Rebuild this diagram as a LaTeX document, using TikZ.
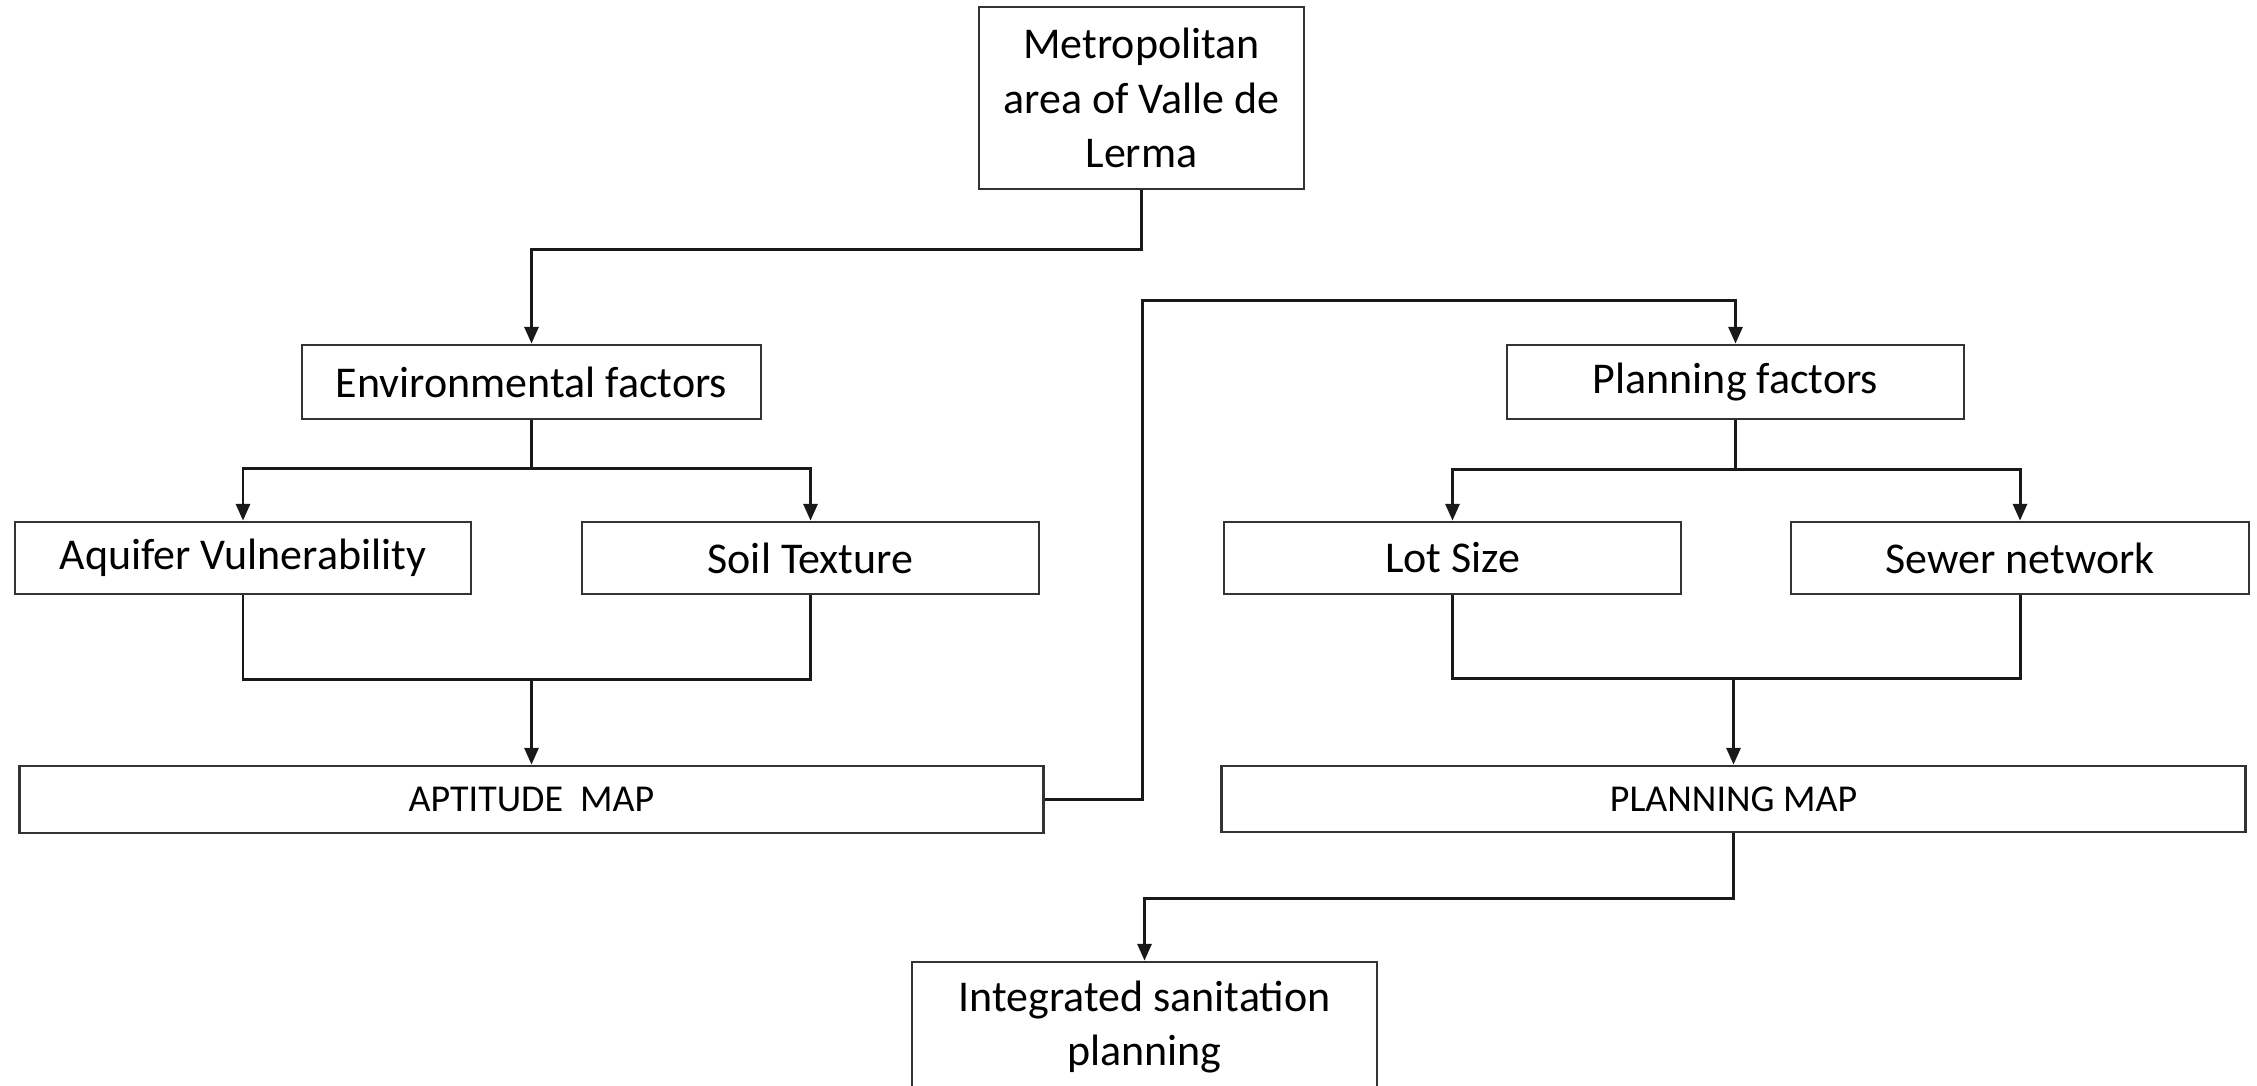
\documentclass[tikz,border=0pt]{standalone}
\usepackage{fontspec}
\setmainfont{Carlito}
\usetikzlibrary{arrows.meta}
\begin{document}
\begin{tikzpicture}[x=0.01cm, y=-0.01cm,
  box/.style={draw=black!80, line width=0.75pt, fill=white, rectangle, inner sep=0pt,
    align=center, font=\fontsize{12.5}{15.4}\selectfont},
  mapbox/.style={box, font=\fontsize{10.8}{13}\selectfont},
  link/.style={draw=black!90, line width=0.85pt},
  arr/.style={link, -{Triangle[length=4.8pt, width=4pt]}}]
\useasboundingbox (0,0) rectangle (2257,1086);
\clip (0,0) rectangle (2257,1086);

% boxes
\node[box, minimum width=3.25cm, minimum height=1.82cm] (metro) at (1141.5,98)
  {Metropolitan\\area of Valle de\\Lerma};
\node[box, minimum width=4.59cm, minimum height=0.74cm] (env) at (531.5,382) {Environmental factors};
\node[box, minimum width=4.57cm, minimum height=0.74cm] (pf) at (1735.5,382) {Planning factors};
\node[box, minimum width=4.56cm, minimum height=0.72cm] (aqu) at (243,558) {Aquifer Vulnerability};
\node[box, minimum width=4.57cm, minimum height=0.72cm] (soil) at (810.5,558) {Soil Texture};
\node[box, minimum width=4.57cm, minimum height=0.72cm] (lot) at (1452.5,558) {Lot Size};
\node[box, minimum width=4.58cm, minimum height=0.72cm] (sewer) at (2020,558) {Sewer network};
\node[mapbox, minimum width=10.23cm, minimum height=0.67cm] (apt) at (531.5,799.5) {APTITUDE\ \ MAP};
\node[mapbox, minimum width=10.23cm, minimum height=0.66cm] (pmap) at (1733.5,799) {PLANNING MAP};
\node[box, minimum width=4.65cm, minimum height=1.30cm] (integ) at (1144.5,1027)
  {Integrated sanitation\\planning};

% branch and join points
\coordinate (ebr) at (531.5,469);
\coordinate (ejoin) at (531.5,680);
\coordinate (pbr) at (1735.5,470);
\coordinate (pjoin) at (1733.5,679);

% connectors
\draw[arr] (metro.south) -- ++(0,59) -| (env.north);
\draw[link] (env.south) -- (ebr);
\draw[arr] (ebr) -| (aqu.north);
\draw[arr] (ebr) -| (soil.north);
\draw[link] (aqu.south) |- (ejoin);
\draw[link] (soil.south) |- (ejoin);
\draw[arr] (ejoin) -- (apt.north);
\draw[arr] (apt.east) -- ++(98,0) |- (1141,301) -| (pf.north);
\draw[link] (pf.south) -- (pbr);
\draw[arr] (pbr) -| (lot.north);
\draw[arr] (pbr) -| (sewer.north);
\draw[link] (lot.south) |- (pjoin);
\draw[link] (sewer.south) |- (pjoin);
\draw[arr] (pjoin) -- (pmap.north);
\draw[arr] (pmap.south) -- ++(0,65) -| (integ.north);
\end{tikzpicture}
\end{document}
